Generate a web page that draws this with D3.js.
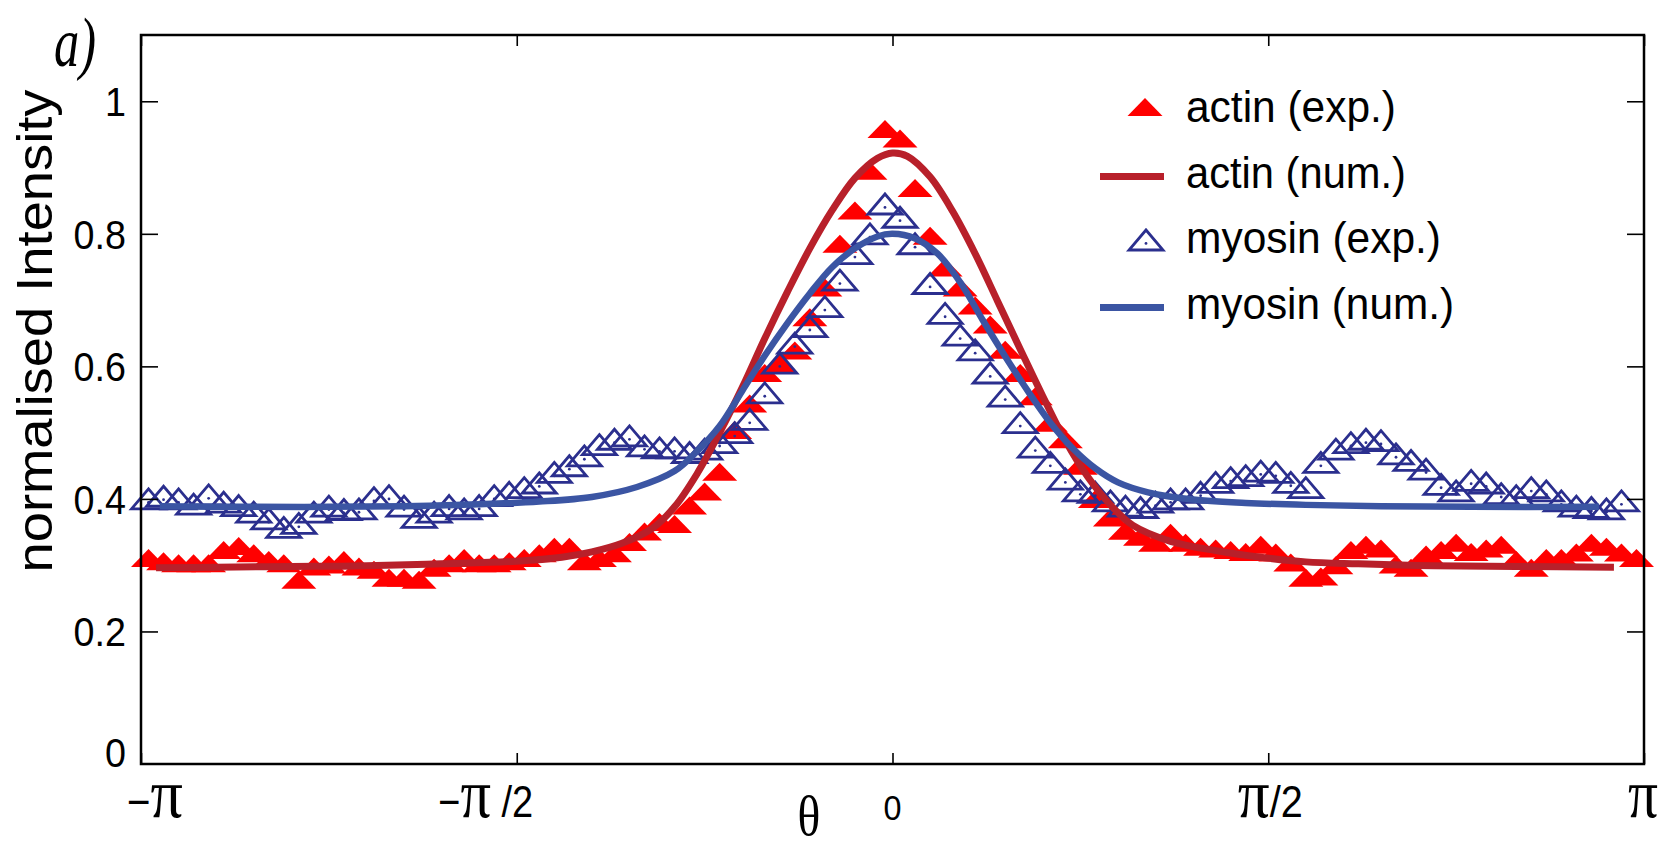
<!DOCTYPE html>
<html>
<head>
<meta charset="utf-8">
<script src="https://cdn.jsdelivr.net/npm/d3@7"></script>
<style>
  body { margin: 0; background: #fff; }
  .sans { font-family: "Liberation Sans", Arial, Helvetica, sans-serif; }
  .serif { font-family: "Liberation Serif", "Times New Roman", serif; }
</style>
</head>
<body>
<div class="chart"></div>
<script>
// Angle of each measured point, in units of pi.
var thetaPi = [
  -0.99,-0.97,-0.95,-0.93,-0.91,-0.89,-0.87,-0.85,-0.83,-0.81,
  -0.79,-0.77,-0.75,-0.73,-0.71,-0.69,-0.67,-0.65,-0.63,-0.61,
  -0.59,-0.57,-0.55,-0.53,-0.51,-0.49,-0.47,-0.45,-0.43,-0.41,
  -0.39,-0.37,-0.35,-0.33,-0.31,-0.29,-0.27,-0.25,-0.23,-0.21,
  -0.19,-0.17,-0.15,-0.13,-0.11,-0.09,-0.07,-0.05,-0.03,-0.01,
  0.01,0.03,0.05,0.07,0.09,0.11,0.13,0.15,0.17,0.19,
  0.21,0.23,0.25,0.27,0.29,0.31,0.33,0.35,0.37,0.39,
  0.41,0.43,0.45,0.47,0.49,0.51,0.53,0.55,0.57,0.59,
  0.61,0.63,0.65,0.67,0.69,0.71,0.73,0.75,0.77,0.79,
  0.81,0.83,0.85,0.87,0.89,0.91,0.93,0.95,0.97,0.99
];

// actin, experiment
var actinExp = [
  0.311,0.306,0.303,0.303,0.303,0.323,0.329,0.318,0.308,0.303,
  0.278,0.298,0.301,0.308,0.298,0.293,0.281,0.281,0.278,0.296,
  0.303,0.311,0.303,0.303,0.306,0.311,0.318,0.328,0.328,0.306,
  0.311,0.318,0.335,0.351,0.365,0.362,0.390,0.411,0.441,0.504,
  0.544,0.590,0.605,0.624,0.674,0.719,0.785,0.835,0.895,0.958,
  0.944,0.869,0.797,0.749,0.719,0.692,0.663,0.625,0.590,0.555,
  0.515,0.490,0.450,0.400,0.372,0.352,0.343,0.334,0.349,0.334,
  0.328,0.325,0.323,0.320,0.331,0.319,0.304,0.281,0.283,0.300,
  0.323,0.331,0.325,0.301,0.296,0.316,0.323,0.334,0.320,0.325,
  0.331,0.308,0.296,0.311,0.311,0.319,0.334,0.328,0.319,0.311
];

// myosin, experiment (ends one point earlier)
var myosinExp = [
  0.400,0.404,0.400,0.392,0.406,0.395,0.390,0.380,0.370,0.357,
  0.363,0.380,0.389,0.384,0.385,0.402,0.405,0.389,0.372,0.380,
  0.390,0.385,0.390,0.405,0.410,0.417,0.424,0.440,0.450,0.465,
  0.482,0.490,0.495,0.480,0.477,0.477,0.470,0.475,0.485,0.500,
  0.520,0.560,0.605,0.635,0.660,0.690,0.730,0.770,0.800,0.845,
  0.825,0.785,0.725,0.680,0.647,0.625,0.590,0.555,0.515,0.478,
  0.455,0.430,0.412,0.410,0.397,0.389,0.387,0.395,0.400,0.400,
  0.410,0.425,0.432,0.435,0.442,0.440,0.425,0.417,0.455,0.475,
  0.485,0.490,0.488,0.468,0.458,0.445,0.422,0.412,0.428,0.424,
  0.408,0.405,0.417,0.412,0.397,0.389,0.387,0.385,0.397
];

// actin, numerical solution
var actinNumTheta = [-0.98,-0.90,-0.80,-0.70,-0.60,-0.50,-0.44,-0.40,-0.36,-0.32,
  -0.29,-0.26,-0.23,-0.20,-0.17,-0.14,-0.11,-0.08,-0.05,-0.02,0.00,0.02,0.05,0.08,
  0.11,0.14,0.17,0.20,0.23,0.26,0.29,0.32,0.37,0.43,0.49,0.55,0.62,0.72,0.83,0.96];
var actinNum = [0.296,0.297,0.298,0.299,0.302,0.306,0.312,0.320,0.333,0.355,
  0.388,0.438,0.500,0.568,0.642,0.712,0.778,0.836,0.884,0.914,0.922,0.917,0.886,0.834,
  0.770,0.698,0.626,0.555,0.488,0.433,0.391,0.360,0.336,0.322,0.312,0.305,0.302,0.299,0.298,0.297];

// myosin, numerical solution
var myosinNumTheta = [-0.975,-0.85,-0.75,-0.65,-0.55,-0.47,-0.40,-0.34,-0.29,-0.26,
  -0.23,-0.20,-0.17,-0.14,-0.11,-0.08,-0.05,-0.02,0.00,0.03,0.06,0.09,0.12,0.15,
  0.18,0.21,0.24,0.27,0.30,0.34,0.40,0.47,0.55,0.65,0.77,0.94];
var myosinNum = [0.389,0.388,0.388,0.389,0.392,0.396,0.403,0.418,0.442,0.472,
  0.510,0.563,0.616,0.665,0.710,0.750,0.778,0.796,0.800,0.793,0.770,0.727,0.670,0.615,
  0.563,0.515,0.476,0.446,0.425,0.410,0.399,0.394,0.391,0.389,0.388,0.388];

var yTicks = [0, 0.2, 0.4, 0.6, 0.8, 1];
var yTickLabels = ["0", "0.2", "0.4", "0.6", "0.8", "1"];
var xTicks = [-1, -0.5, 0, 0.5, 1];
var xTickLabels = ["\u2212\u03c0", "\u2212\u03c0 /2", "0", "\u03c0/2", "\u03c0"];
var legendLabels = ["actin (exp.)", "actin (num.)", "myosin (exp.)", "myosin (num.)"];

var svgWidth = 1674, svgHeight = 849;
var margin = { top: 35, right: 30, bottom: 85, left: 141 };
var chartWidth = svgWidth - margin.left - margin.right;
var chartHeight = svgHeight - margin.top - margin.bottom;

var RED = "#ff0000", RED_LINE = "#b8202a", BLUE = "#2b2f8e", BLUE_LINE = "#3b55a3";

var svg = d3.select(".chart").append("svg")
  .attr("width", svgWidth)
  .attr("height", svgHeight)
  .style("display", "block");

svg.append("rect").attr("width", svgWidth).attr("height", svgHeight).attr("fill", "#fff");

var x = d3.scaleLinear().domain([-1, 1]).range([margin.left, margin.left + chartWidth]);
var y = d3.scaleLinear().domain([0, 1.1]).range([margin.top + chartHeight, margin.top]);

// marker shapes
var redTri = "M0,-9L17.5,9L-17.5,9Z";
var blueTri = "M0,-10L17,10L-17,10Z";

function drawBlue(sel) {
  sel.append("path").attr("d", blueTri).attr("fill", "none")
    .attr("stroke", BLUE).attr("stroke-width", 2.8).attr("stroke-linejoin", "miter");
  sel.append("circle").attr("cx", 0).attr("cy", 3.4).attr("r", 1.4).attr("fill", BLUE);
}

// experimental points
var actinPts = d3.zip(thetaPi, actinExp);
var myosinPts = d3.zip(thetaPi.slice(0, myosinExp.length), myosinExp);

svg.append("g").selectAll("path")
  .data(actinPts)
  .enter().append("path")
  .attr("d", redTri)
  .attr("fill", RED)
  .attr("transform", function(d) { return "translate(" + x(d[0]) + "," + y(d[1]) + ")"; });

svg.append("g").selectAll("g")
  .data(myosinPts)
  .enter().append("g")
  .attr("transform", function(d) { return "translate(" + x(d[0]) + "," + y(d[1]) + ")"; })
  .each(function() { drawBlue(d3.select(this)); });

// numerical curves
var line = d3.line()
  .x(function(d) { return x(d[0]); })
  .y(function(d) { return y(d[1]); })
  .curve(d3.curveCatmullRom.alpha(0.5));

svg.append("path").datum(d3.zip(actinNumTheta, actinNum))
  .attr("d", line).attr("fill", "none")
  .attr("stroke", RED_LINE).attr("stroke-width", 7);

svg.append("path").datum(d3.zip(myosinNumTheta, myosinNum))
  .attr("d", line).attr("fill", "none")
  .attr("stroke", BLUE_LINE).attr("stroke-width", 6.5);

// frame and inward ticks
svg.append("rect")
  .attr("x", margin.left).attr("y", margin.top)
  .attr("width", chartWidth).attr("height", chartHeight)
  .attr("fill", "none").attr("stroke", "#000").attr("stroke-width", 2.5);

function styleAxis(g) {
  g.select(".domain").remove();
  g.selectAll(".tick line").attr("stroke", "#000").attr("stroke-width", 1.6);
}

svg.append("g").attr("transform", "translate(0," + y(0) + ")")
  .call(d3.axisBottom(x).tickValues(xTicks).tickSizeInner(-11).tickSizeOuter(0).tickFormat(""))
  .call(styleAxis);
svg.append("g").attr("transform", "translate(0," + margin.top + ")")
  .call(d3.axisTop(x).tickValues(xTicks).tickSizeInner(-11).tickSizeOuter(0).tickFormat(""))
  .call(styleAxis);
svg.append("g").attr("transform", "translate(" + margin.left + ",0)")
  .call(d3.axisLeft(y).tickValues(yTicks.slice(1)).tickSizeInner(-17).tickSizeOuter(0).tickFormat(""))
  .call(styleAxis);
svg.append("g").attr("transform", "translate(" + (margin.left + chartWidth) + ",0)")
  .call(d3.axisRight(y).tickValues(yTicks.slice(1)).tickSizeInner(-17).tickSizeOuter(0).tickFormat(""))
  .call(styleAxis);

// y tick labels
svg.append("g").selectAll("text")
  .data(yTicks)
  .enter().append("text")
  .attr("class", "sans")
  .attr("font-size", 41)
  .attr("text-anchor", "end")
  .attr("dy", "0.36em")
  .attr("transform", function(d) {
    var yy = y(d) - (d === 0 ? 12 : 0);
    return "translate(" + (margin.left - 15) + "," + yy + ") scale(0.92,1)";
  })
  .text(function(d, i) { return yTickLabels[i]; });

// x tick labels: pi in serif, the rest in sans, squeezed to the reference widths
var xLabelWidth = [56, 95, 18, 65, 30];
var xLabelShift = [14, -31, 0, 2, -1];
xTicks.forEach(function(t, i) {
  var label = xTickLabels[i];
  var cx = x(t) + xLabelShift[i];
  var g = svg.append("g");
  var txt = g.append("text").attr("x", 0).attr("y", 0).attr("text-anchor", "middle");
  label.split("").forEach(function(ch) {
    if (ch === "\u03c0") {
      txt.append("tspan").attr("class", "serif").attr("font-size", 70).text(ch);
    } else {
      txt.append("tspan").attr("class", "sans").attr("font-size", label === "0" ? 36 : 44).text(ch);
    }
  });
  var natural = txt.node().getComputedTextLength() || xLabelWidth[i];
  var s = Math.min(1, xLabelWidth[i] / natural);
  g.attr("transform", "translate(" + cx + "," + (label === "0" ? 820 : 817) + ") scale(" + s + ",1)");
});

// axis titles
svg.append("text")
  .attr("class", "serif")
  .attr("font-size", 58)
  .attr("text-anchor", "middle")
  .attr("transform", "translate(809,835) scale(0.82,1)")
  .text("\u03b8");

svg.append("text")
  .attr("class", "sans")
  .attr("font-size", 50)
  .attr("text-anchor", "middle")
  .attr("transform", "translate(52,331) rotate(-90)")
  .attr("textLength", 483).attr("lengthAdjust", "spacingAndGlyphs")
  .text("normalised Intensity");

svg.append("text")
  .attr("class", "serif")
  .attr("font-style", "italic")
  .attr("font-size", 70)
  .attr("x", 54).attr("y", 66)
  .attr("textLength", 42).attr("lengthAdjust", "spacingAndGlyphs")
  .text("a)");

// legend
var legendX = 1145, legendTextX = 1186, legendY0 = 108, legendStep = 65.5;
var legendWidths = [210, 220, 255, 268];
var legend = svg.append("g");
legendLabels.forEach(function(lab, i) {
  var cy = legendY0 + i * legendStep;
  if (i === 0) {
    legend.append("path").attr("d", redTri).attr("fill", RED)
      .attr("transform", "translate(" + legendX + "," + (cy - 1) + ")");
  } else if (i === 2) {
    drawBlue(legend.append("g").attr("transform", "translate(" + (legendX + 1) + "," + (cy + 1) + ")"));
  } else {
    legend.append("line")
      .attr("x1", legendX - 45).attr("x2", legendX + 19)
      .attr("y1", cy + 3).attr("y2", cy + 3)
      .attr("stroke", i === 1 ? RED_LINE : BLUE_LINE)
      .attr("stroke-width", 7);
  }
  legend.append("text")
    .attr("class", "sans")
    .attr("font-size", 45)
    .attr("x", legendTextX).attr("y", cy + 14)
    .attr("textLength", legendWidths[i]).attr("lengthAdjust", "spacingAndGlyphs")
    .text(lab);
});
</script>
</body>
</html>
